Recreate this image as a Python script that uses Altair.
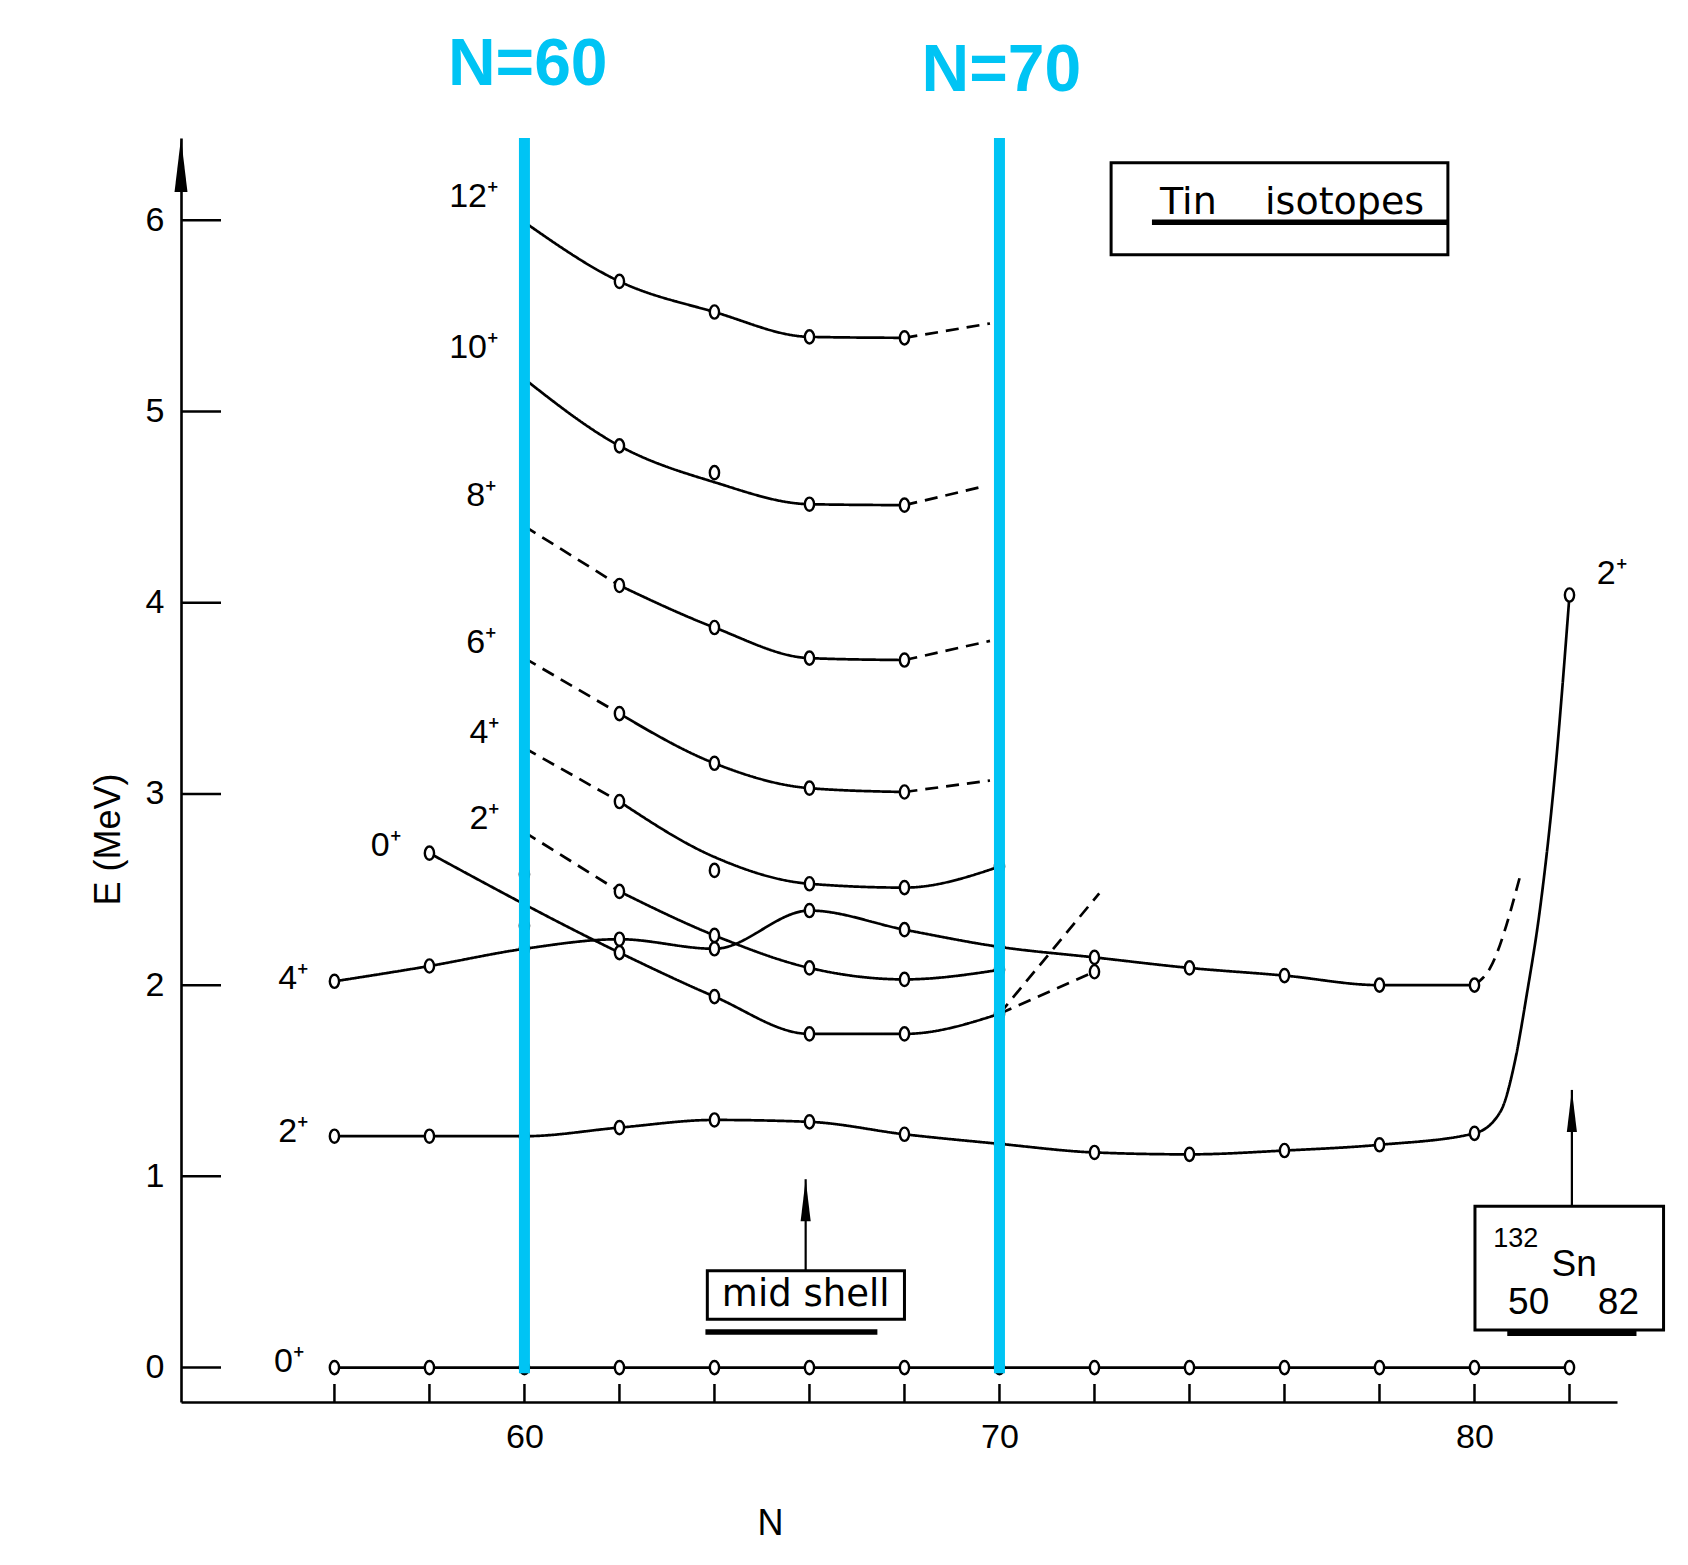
import altair as alt
import pandas as pd

# ---------------- layout / style ----------------
W, H = 1436, 1264
PAD = {"left": 173, "top": 130, "right": 60, "bottom": 150}
NUM_FONT = "Liberation Sans"
TXT_FONT = "DejaVu Sans"
BLUE = "#00C4F4"
ELLIPSE = ("M0,-1 C0.387,-1 0.7,-0.552 0.7,0 C0.7,0.552 0.387,1 0,1 "
           "C-0.387,1 -0.7,0.552 -0.7,0 C-0.7,-0.552 -0.387,-1 0,-1 Z")
ARROW = "M0,-1 L0.24,1 L-0.24,1 Z"
NBSP = "\u00a0"

# ---------------- axes ----------------
x_domain = [52.77, 83.0]
y_domain = [-0.18, 6.43]
x_tick_values = [56, 58, 60, 62, 64, 66, 68, 70, 72, 74, 76, 78, 80, 82]
x_label_values = [60, 70, 80]
y_tick_values = [0, 1, 2, 3, 4, 5, 6]

# ---------------- data (N, E in MeV) ----------------
# ground state 0+
gs_N = [56, 58, 60, 62, 64, 66, 68, 70, 72, 74, 76, 78, 80, 82]
gs_E = [0.0, 0.0, 0.0, 0.0, 0.0, 0.0, 0.0, 0.0, 0.0, 0.0, 0.0, 0.0, 0.0, 0.0]

# first 2+
y2_N = [56, 58, 60, 62, 64, 66, 68, 70, 72, 74, 76, 78, 80, 82]
y2_E = [1.21, 1.21, 1.21, 1.255, 1.295, 1.285, 1.22, 1.17, 1.125, 1.115, 1.135, 1.165, 1.225, 4.04]
# points read along the steep drawn curve towards 132Sn
y2_curve_N = [80.55, 80.85, 81.1, 81.38, 81.7]
y2_curve_E = [1.34, 1.6, 1.95, 2.4, 3.12]

# first 4+
y4_N = [56, 58, 60, 62, 64, 66, 68, 70, 72, 74, 76, 78, 80]
y4_E = [2.02, 2.10, 2.19, 2.24, 2.19, 2.39, 2.29, 2.20, 2.145, 2.09, 2.05, 2.00, 2.00]
y4_tail_N = [80, 80.33, 80.96]
y4_tail_E = [2.00, 2.09, 2.57]

# intruder band 0+
i0_N = [58, 62, 64, 66, 68, 70]
i0_E = [2.69, 2.17, 1.94, 1.745, 1.745, 1.85]
i0_tailA_N = [70, 72.1]
i0_tailA_E = [1.85, 2.48]
i0_tailB_N = [70, 72]
i0_tailB_E = [1.85, 2.07]
i0_end_N = [72]
i0_end_E = [2.07]

# intruder band 2+
i2_lead_N = [60, 62]
i2_lead_E = [2.80, 2.49]
i2_N = [62, 64, 66, 68, 70]
i2_E = [2.49, 2.26, 2.09, 2.03, 2.08]

# intruder band 4+
i4_lead_N = [60, 62]
i4_lead_E = [3.24, 2.96]
i4_N = [62, 64, 66, 68, 70]
i4_E = [2.96, 2.60, 2.53, 2.51, 2.62]
i4_line_E = [2.96, 2.67, 2.53, 2.51, 2.62]

# intruder band 6+
i6_lead_N = [60, 62]
i6_lead_E = [3.71, 3.42]
i6_N = [62, 64, 66, 68]
i6_E = [3.42, 3.16, 3.03, 3.01]
i6_tail_N = [68, 69.8]
i6_tail_E = [3.01, 3.07]

# intruder band 8+
i8_lead_N = [60, 62]
i8_lead_E = [4.40, 4.09]
i8_N = [62, 64, 66, 68]
i8_E = [4.09, 3.87, 3.71, 3.70]
i8_tail_N = [68, 69.8]
i8_tail_E = [3.70, 3.80]

# intruder band 10+
i10_line_N = [60, 62, 64, 66, 68]
i10_line_E = [5.17, 4.82, 4.63, 4.515, 4.51]
i10_N = [62, 64, 66, 68]
i10_E = [4.82, 4.68, 4.515, 4.51]
i10_tail_N = [68, 69.7]
i10_tail_E = [4.51, 4.61]

# intruder band 12+
i12_line_N = [60, 62, 64, 66, 68]
i12_line_E = [5.99, 5.68, 5.52, 5.39, 5.385]
i12_N = [62, 64, 66, 68]
i12_E = [5.68, 5.52, 5.39, 5.385]
i12_tail_N = [68, 69.8]
i12_tail_E = [5.385, 5.46]

# isolated states at N=60
iso_N = [60, 60]
iso_E = [2.58, 2.31]

# state labels
label_text = ["12⁺", "10⁺", "8⁺", "6⁺", "4⁺", "2⁺", "0⁺", "4⁺", "2⁺", "0⁺", "2⁺"]
label_N = [58.93, 58.93, 59.09, 59.09, 59.16, 59.16, 57.08, 55.13, 55.13, 55.04, 82.89]
label_E = [6.12, 5.33, 4.56, 3.79, 3.32, 2.87, 2.73, 2.03, 1.23, 0.03, 4.15]

# highlighted neutron numbers
mark_N = [60, 70]
mark_text = ["N=60", "N=70"]
mark_text_N = [60.07, 70.04]
mark_text_E = [6.81, 6.78]
mark_top_E = 6.43
mark_bot_E = -0.03

# annotation boxes
box_x1 = [72.35, 63.85, 80.01]
box_x2 = [79.44, 68.0, 83.98]
box_y1 = [5.82, 0.253, 0.197]
box_y2 = [6.30, 0.506, 0.844]
under_x1 = [73.21, 63.81, 80.69]
under_x2 = [79.44, 67.43, 83.41]
under_y = [5.99, 0.186, 0.18]
arrow_N = [65.92, 82.05]
arrow_E0 = [0.506, 0.844]
arrow_E1 = [0.985, 1.452]
box_text = ["Tin" + NBSP * 4 + "isotopes", "mid shell"]
box_text_N = [76.16, 65.92]
box_text_E = [6.09, 0.38]
box_text_size = [38, 37]
sn_text = ["132", "Sn", "50", "82"]
sn_text_N = [80.87, 82.10, 81.14, 83.03]
sn_text_E = [0.675, 0.535, 0.338, 0.338]
sn_text_size = [27, 37, 37, 37]

# ---------------- tables ----------------
segments = [
    ("gs", "solid", gs_N, gs_E),
    ("y2", "solid", *zip(*sorted(zip(y2_N + y2_curve_N, y2_E + y2_curve_E)))),
    ("y4", "solid", y4_N, y4_E),
    ("y4t", "dashed", y4_tail_N, y4_tail_E),
    ("i0", "solid", i0_N, i0_E),
    ("i0a", "dashed", i0_tailA_N, i0_tailA_E),
    ("i0b", "dashed", i0_tailB_N, i0_tailB_E),
    ("i2d", "dashed", i2_lead_N, i2_lead_E),
    ("i2", "solid", i2_N, i2_E),
    ("i4d", "dashed", i4_lead_N, i4_lead_E),
    ("i4", "solid", i4_N, i4_line_E),
    ("i6d", "dashed", i6_lead_N, i6_lead_E),
    ("i6", "solid", i6_N, i6_E),
    ("i6t", "dashed", i6_tail_N, i6_tail_E),
    ("i8d", "dashed", i8_lead_N, i8_lead_E),
    ("i8", "solid", i8_N, i8_E),
    ("i8t", "dashed", i8_tail_N, i8_tail_E),
    ("i10", "solid", i10_line_N, i10_line_E),
    ("i10t", "dashed", i10_tail_N, i10_tail_E),
    ("i12", "solid", i12_line_N, i12_line_E),
    ("i12t", "dashed", i12_tail_N, i12_tail_E),
]
rows = []
for seg, style, Ns, Es in segments:
    for k, (n, e) in enumerate(zip(Ns, Es)):
        rows.append({"seg": seg, "style": style, "N": n, "E": e, "ord": k})
lines_df = pd.DataFrame(rows)

marker_sets = [
    (gs_N, gs_E), (y2_N, y2_E), (y4_N, y4_E), (i0_N, i0_E), (i0_end_N, i0_end_E),
    (i2_N, i2_E), (i4_N, i4_E), (i6_N, i6_E), (i8_N, i8_E), (i10_N, i10_E),
    (i12_N, i12_E), (iso_N, iso_E),
]
markers_df = pd.DataFrame(
    [{"N": n, "E": e} for Ns, Es in marker_sets for n, e in zip(Ns, Es)]
)
labels_df = pd.DataFrame({"text": label_text, "N": label_N, "E": label_E})
blue_df = pd.DataFrame({"N": mark_N, "E": [mark_top_E] * 2, "bot": [mark_bot_E] * 2})
blue_txt_df = pd.DataFrame({"text": mark_text, "N": mark_text_N, "E": mark_text_E})
box_df = pd.DataFrame({"N": box_x1, "x2": box_x2, "E": box_y1, "y2": box_y2})
under_df = pd.DataFrame({"N": under_x1, "x2": under_x2, "E": under_y})
arrow_df = pd.DataFrame({"N": arrow_N, "E0": arrow_E0, "E": arrow_E1})
boxtxt_df = pd.DataFrame({"text": box_text, "N": box_text_N, "E": box_text_E, "fs": box_text_size})
sntxt_df = pd.DataFrame({"text": sn_text, "N": sn_text_N, "E": sn_text_E, "fs": sn_text_size})
xt_df = pd.DataFrame({"N": x_tick_values})
yt_df = pd.DataFrame({"E": y_tick_values})
yarrow_df = pd.DataFrame({"N": [x_domain[0]], "E": [y_domain[1]]})

# ---------------- encodings ----------------
xs = alt.Scale(domain=x_domain, nice=False, zero=False)
ys = alt.Scale(domain=y_domain, nice=False, zero=False)

x_axis = alt.Axis(
    values=x_label_values, ticks=False, grid=False, domainColor="black", domainWidth=2.6,
    labelFont=NUM_FONT, labelFontSize=34, labelColor="black", labelPadding=18,
    labelFlush=False, labelOverlap=False, format="d",
    title="N", titleFont=NUM_FONT, titleFontSize=36, titleFontWeight="normal",
    titleColor="black", titleX=589, titleY=121, titleAlign="center", titleBaseline="middle",
)
y_axis = alt.Axis(
    values=y_tick_values, ticks=False, grid=False, domainColor="black", domainWidth=2.6,
    labelFont=NUM_FONT, labelFontSize=34, labelColor="black", labelPadding=17,
    labelFlush=False, labelOverlap=False, format="d",
    title="E (MeV)", titleFont=NUM_FONT, titleFontSize=36, titleFontWeight="normal",
    titleColor="black", titleAngle=-90, titleX=-73, titleY=701, titleAlign="center",
    titleBaseline="middle",
)


def X(field="N"):
    return alt.X(field, type="quantitative", scale=xs, axis=x_axis, title="N")


def Y(field="E"):
    return alt.Y(field, type="quantitative", scale=ys, axis=y_axis, title="E (MeV)")


lines = alt.Chart(lines_df).mark_line(
    interpolate="monotone", color="black", strokeWidth=2.7
).encode(
    x=X(),
    y=Y(),
    detail="seg:N",
    order=alt.Order("ord:Q"),
    strokeDash=alt.StrokeDash(
        "style:N",
        scale=alt.Scale(domain=["solid", "dashed"], range=[[1, 0], [13, 8]]),
        legend=None,
    ),
)

x_ticks = alt.Chart(xt_df).mark_rule(color="black", strokeWidth=2.5).encode(
    x=X(), y=alt.value(H), y2=alt.value(H - 18)
)
y_ticks = alt.Chart(yt_df).mark_rule(color="black", strokeWidth=2.5).encode(
    y=Y(), x=alt.value(0), x2=alt.value(40)
)
y_arrow = alt.Chart(yarrow_df).mark_point(
    shape=ARROW, size=2916, filled=True, color="black", opacity=1, yOffset=27
).encode(x=X(), y=Y())

markers = alt.Chart(markers_df).mark_point(
    shape=ELLIPSE, size=175, filled=True, fill="white", stroke="black",
    strokeWidth=2.4, opacity=1
).encode(x=X(), y=Y())

boxes = alt.Chart(box_df).mark_rect(fill="white", stroke="black", strokeWidth=3).encode(
    x=X(), x2="x2", y=Y(), y2="y2"
)
underlines = alt.Chart(under_df).mark_rule(color="black", strokeWidth=5.5).encode(
    x=X(), x2="x2", y=Y()
)
shafts = alt.Chart(arrow_df).mark_rule(color="black", strokeWidth=2.2).encode(
    x=X(), y=Y(), y2="E0"
)
heads = alt.Chart(arrow_df).mark_point(
    shape=ARROW, size=1764, filled=True, color="black", opacity=1, yOffset=21
).encode(x=X(), y=Y())

box_texts = alt.Chart(boxtxt_df).mark_text(
    font=TXT_FONT, color="black", align="center", baseline="middle"
).encode(x=X(), y=Y(), text="text:N", size=alt.Size("fs:Q", scale=None))
sn_texts = alt.Chart(sntxt_df).mark_text(
    font=NUM_FONT, color="black", align="center", baseline="middle"
).encode(x=X(), y=Y(), text="text:N", size=alt.Size("fs:Q", scale=None))

labels = alt.Chart(labels_df).mark_text(
    font=NUM_FONT, fontSize=34, color="black", align="center", baseline="middle"
).encode(x=X(), y=Y(), text="text:N")

blue_lines = alt.Chart(blue_df).mark_rule(color=BLUE, strokeWidth=11).encode(
    x=X(), y=Y(), y2="bot"
)
blue_texts = alt.Chart(blue_txt_df).mark_text(
    font=NUM_FONT, fontSize=66, fontWeight="bold", color=BLUE,
    align="center", baseline="middle"
).encode(x=X(), y=Y(), text="text:N")

chart = alt.layer(
    lines, x_ticks, y_ticks, y_arrow, markers, boxes, underlines, shafts, heads,
    box_texts, sn_texts, labels, blue_lines, blue_texts
).properties(
    width=W, height=H, padding=PAD, background="white",
    autosize=alt.AutoSizeParams(type="none"),
).configure_view(stroke=None)

chart.save("out.html", embed_options={"renderer": "svg", "actions": False})
